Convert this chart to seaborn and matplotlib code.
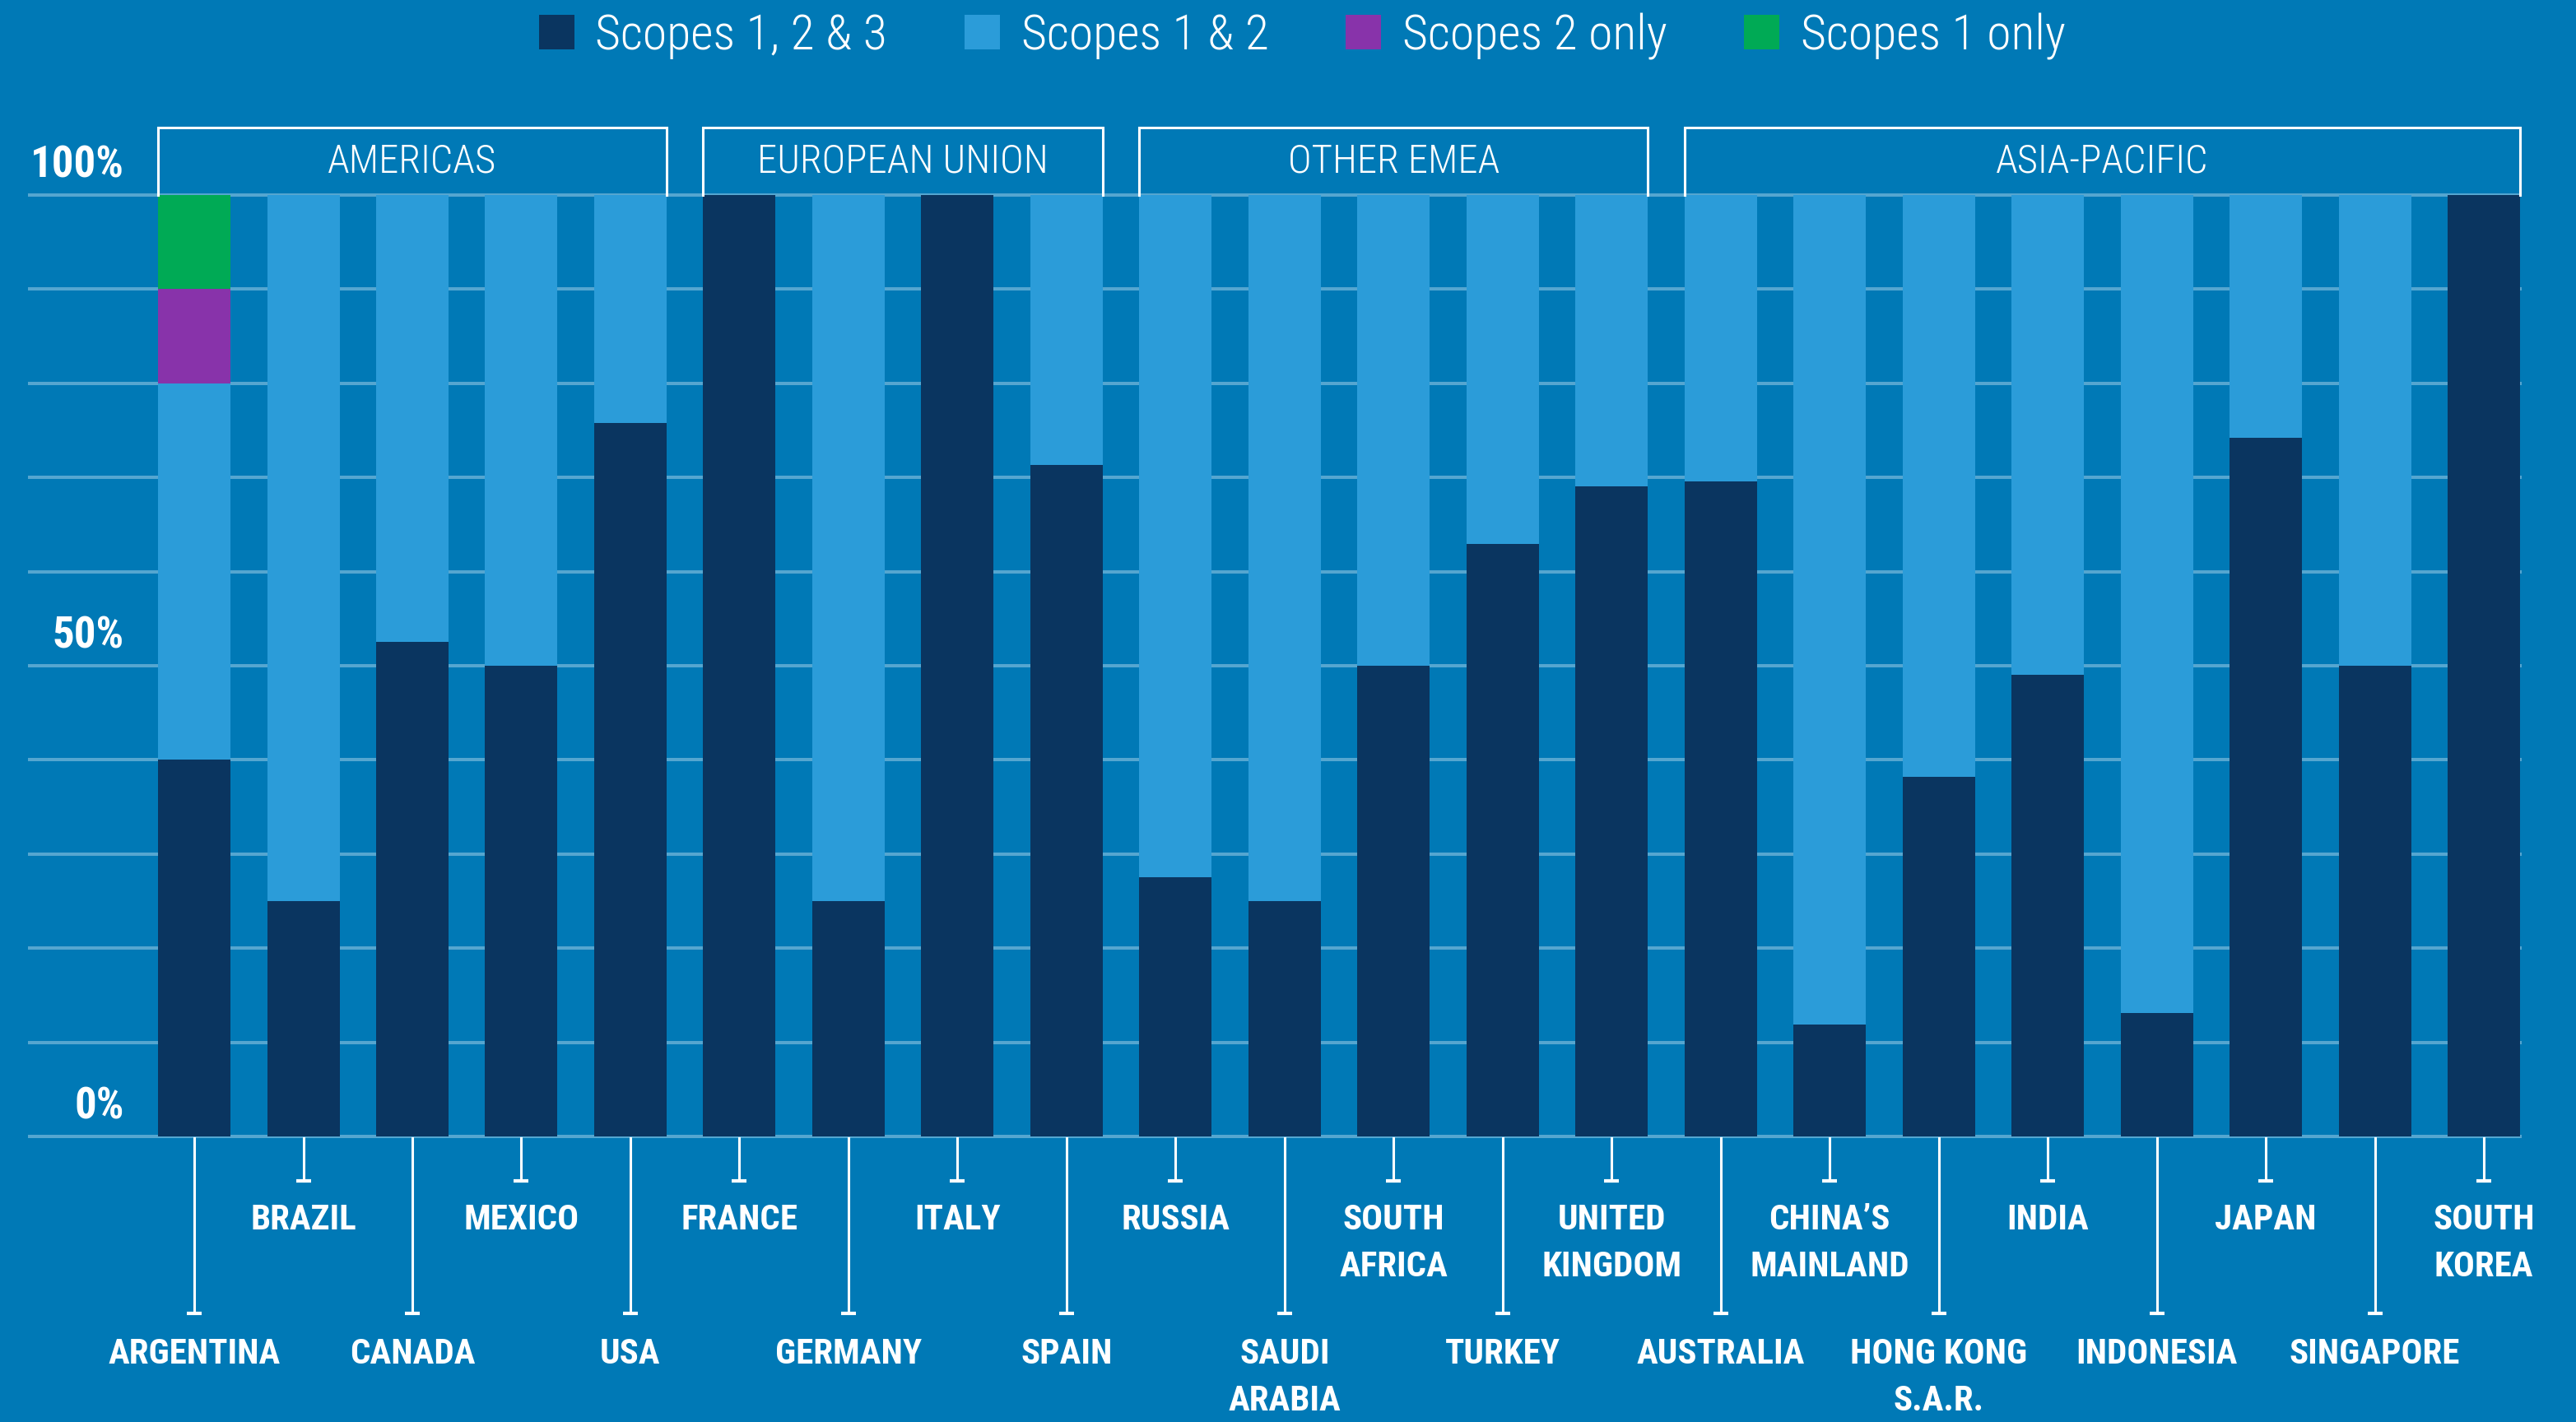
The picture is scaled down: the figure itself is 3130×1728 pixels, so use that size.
import numpy as np
import pandas as pd
import matplotlib
matplotlib.use('Agg')
import matplotlib.pyplot as plt
import seaborn as sns
from matplotlib import font_manager

# data (% of companies per country)
countries = ['ARGENTINA', 'BRAZIL', 'CANADA', 'MEXICO', 'USA',
             'FRANCE', 'GERMANY', 'ITALY', 'SPAIN',
             'RUSSIA', 'SAUDI\nARABIA', 'SOUTH\nAFRICA', 'TURKEY', 'UNITED\nKINGDOM',
             'AUSTRALIA', 'CHINA’S\nMAINLAND', 'HONG KONG\nS.A.R.', 'INDIA', 'INDONESIA',
             'JAPAN', 'SINGAPORE', 'SOUTH\nKOREA']
scope123 = [40, 25, 52.5, 50, 75.8, 100, 25, 100, 71.3, 27.5, 25, 50, 62.9, 69.1,
            69.6, 11.9, 38.2, 49, 13.1, 74.2, 50, 100]
scope12 = [40, 75, 47.5, 50, 24.2, 0, 75, 0, 28.7, 72.5, 75, 50, 37.1, 30.9,
           30.4, 88.1, 61.8, 51, 86.9, 25.8, 50, 0]
scope2 = [10, 0, 0, 0, 0, 0, 0, 0, 0, 0, 0, 0, 0, 0, 0, 0, 0, 0, 0, 0, 0, 0]
scope1 = [10, 0, 0, 0, 0, 0, 0, 0, 0, 0, 0, 0, 0, 0, 0, 0, 0, 0, 0, 0, 0, 0]
regions = ['AMERICAS', 'EUROPEAN UNION', 'OTHER EMEA', 'ASIA-PACIFIC']
region_sizes = [5, 4, 5, 8]
series_names = ['Scopes 1, 2 & 3', 'Scopes 1 & 2', 'Scopes 2 only', 'Scopes 1 only']

bg = '#0079b6'
c_dark = '#0a3560'
c_light = '#2b9cd9'
c_purple = '#8833aa'
c_green = '#00aa55'
c_grid = '#55a6d0'

# narrowest sans that is around
avail = {f.name for f in font_manager.fontManager.ttflist}
font = 'DejaVu Sans'
for cand in ['Liberation Sans Narrow', 'Roboto Condensed', 'Roboto', 'Lato']:
    if cand in avail:
        font = cand
        break
plt.rcParams['font.family'] = [font, 'DejaVu Sans']

df = pd.DataFrame({'country': countries, 's123': scope123, 's12': scope12,
                   's2': scope2, 's1': scope1})
df['c2'] = df['s123'] + df['s12']
df['c3'] = df['c2'] + df['s2']
df['c4'] = df['c3'] + df['s1']

fig = plt.figure(figsize=(31.3, 17.28), dpi=100)
fig.patch.set_facecolor(bg)
ax = fig.add_axes([0.0115, 0.2008, 0.9668, 0.662])
ax.set_facecolor(bg)

for v in range(0, 101, 10):
    ax.axhline(v, color=c_grid, lw=2.9, zorder=0, clip_on=False)

bw = 0.664
# stacked by drawing cumulative totals back to front
sns.barplot(data=df, x='country', y='c4', order=countries, color=c_green, saturation=1,
            width=bw, linewidth=0, errorbar=None, ax=ax, label=series_names[3], zorder=2)
sns.barplot(data=df, x='country', y='c3', order=countries, color=c_purple, saturation=1,
            width=bw, linewidth=0, errorbar=None, ax=ax, label=series_names[2], zorder=2)
sns.barplot(data=df, x='country', y='c2', order=countries, color=c_light, saturation=1,
            width=bw, linewidth=0, errorbar=None, ax=ax, label=series_names[1], zorder=2)
sns.barplot(data=df, x='country', y='s123', order=countries, color=c_dark, saturation=1,
            width=bw, linewidth=0, errorbar=None, ax=ax, label=series_names[0], zorder=2)

ax.set_xlim(-1.51, 21.332)
ax.set_ylim(0, 100)
ax.set_xticks([])
ax.set_yticks([])
ax.set_xlabel('')
ax.set_ylabel('')
for s in ax.spines.values():
    s.set_visible(False)
if ax.get_legend():
    ax.get_legend().remove()

# y labels sitting on the gridlines
for v, t in [(100, '100%'), (50, '50%'), (0, '0%')]:
    ax.text(-0.642, v + 1.9, t, ha='right', va='baseline', color='white',
            fontsize=38, fontweight='bold')

# region header brackets
start = 0
for name, n in zip(regions, region_sizes):
    x0 = start - bw / 2
    x1 = start + n - 1 + bw / 2
    ax.plot([x0, x0, x1, x1], [100, 107.2, 107.2, 100], color='white', lw=2.2,
            clip_on=False, zorder=3, solid_joinstyle='miter')
    ax.text((x0 + x1) / 2, 102.4, name, ha='center', va='baseline', color='white',
            fontsize=35, fontweight='light')
    start += n

# staggered country labels with leader lines
for i, name in enumerate(countries):
    if i % 2 == 0:
        y_end, y_txt = -18.8, -21.3
    else:
        y_end, y_txt = -4.72, -7.08
    ax.plot([i, i], [-0.2, y_end], color='white', lw=2.2, clip_on=False, zorder=3)
    ax.plot([i - 0.068, i + 0.068], [y_end, y_end], color='white', lw=3,
            clip_on=False, zorder=3, solid_capstyle='butt')
    ax.text(i, y_txt, name, ha='center', va='top', color='white', fontsize=31,
            fontweight='bold', linespacing=1.5)

handles, labels = ax.get_legend_handles_labels()
order = [labels.index(n) for n in series_names]
leg = fig.legend([handles[k] for k in order], series_names, loc='center',
                 bbox_to_anchor=(0.5055, 0.9745), ncol=4, frameon=False,
                 handlelength=0.72, handleheight=0.72, handletextpad=0.43,
                 columnspacing=1.57, labelcolor='white',
                 prop={'size': 43, 'weight': 'light'})

fig.savefig('out.png', dpi=100, facecolor=bg)
